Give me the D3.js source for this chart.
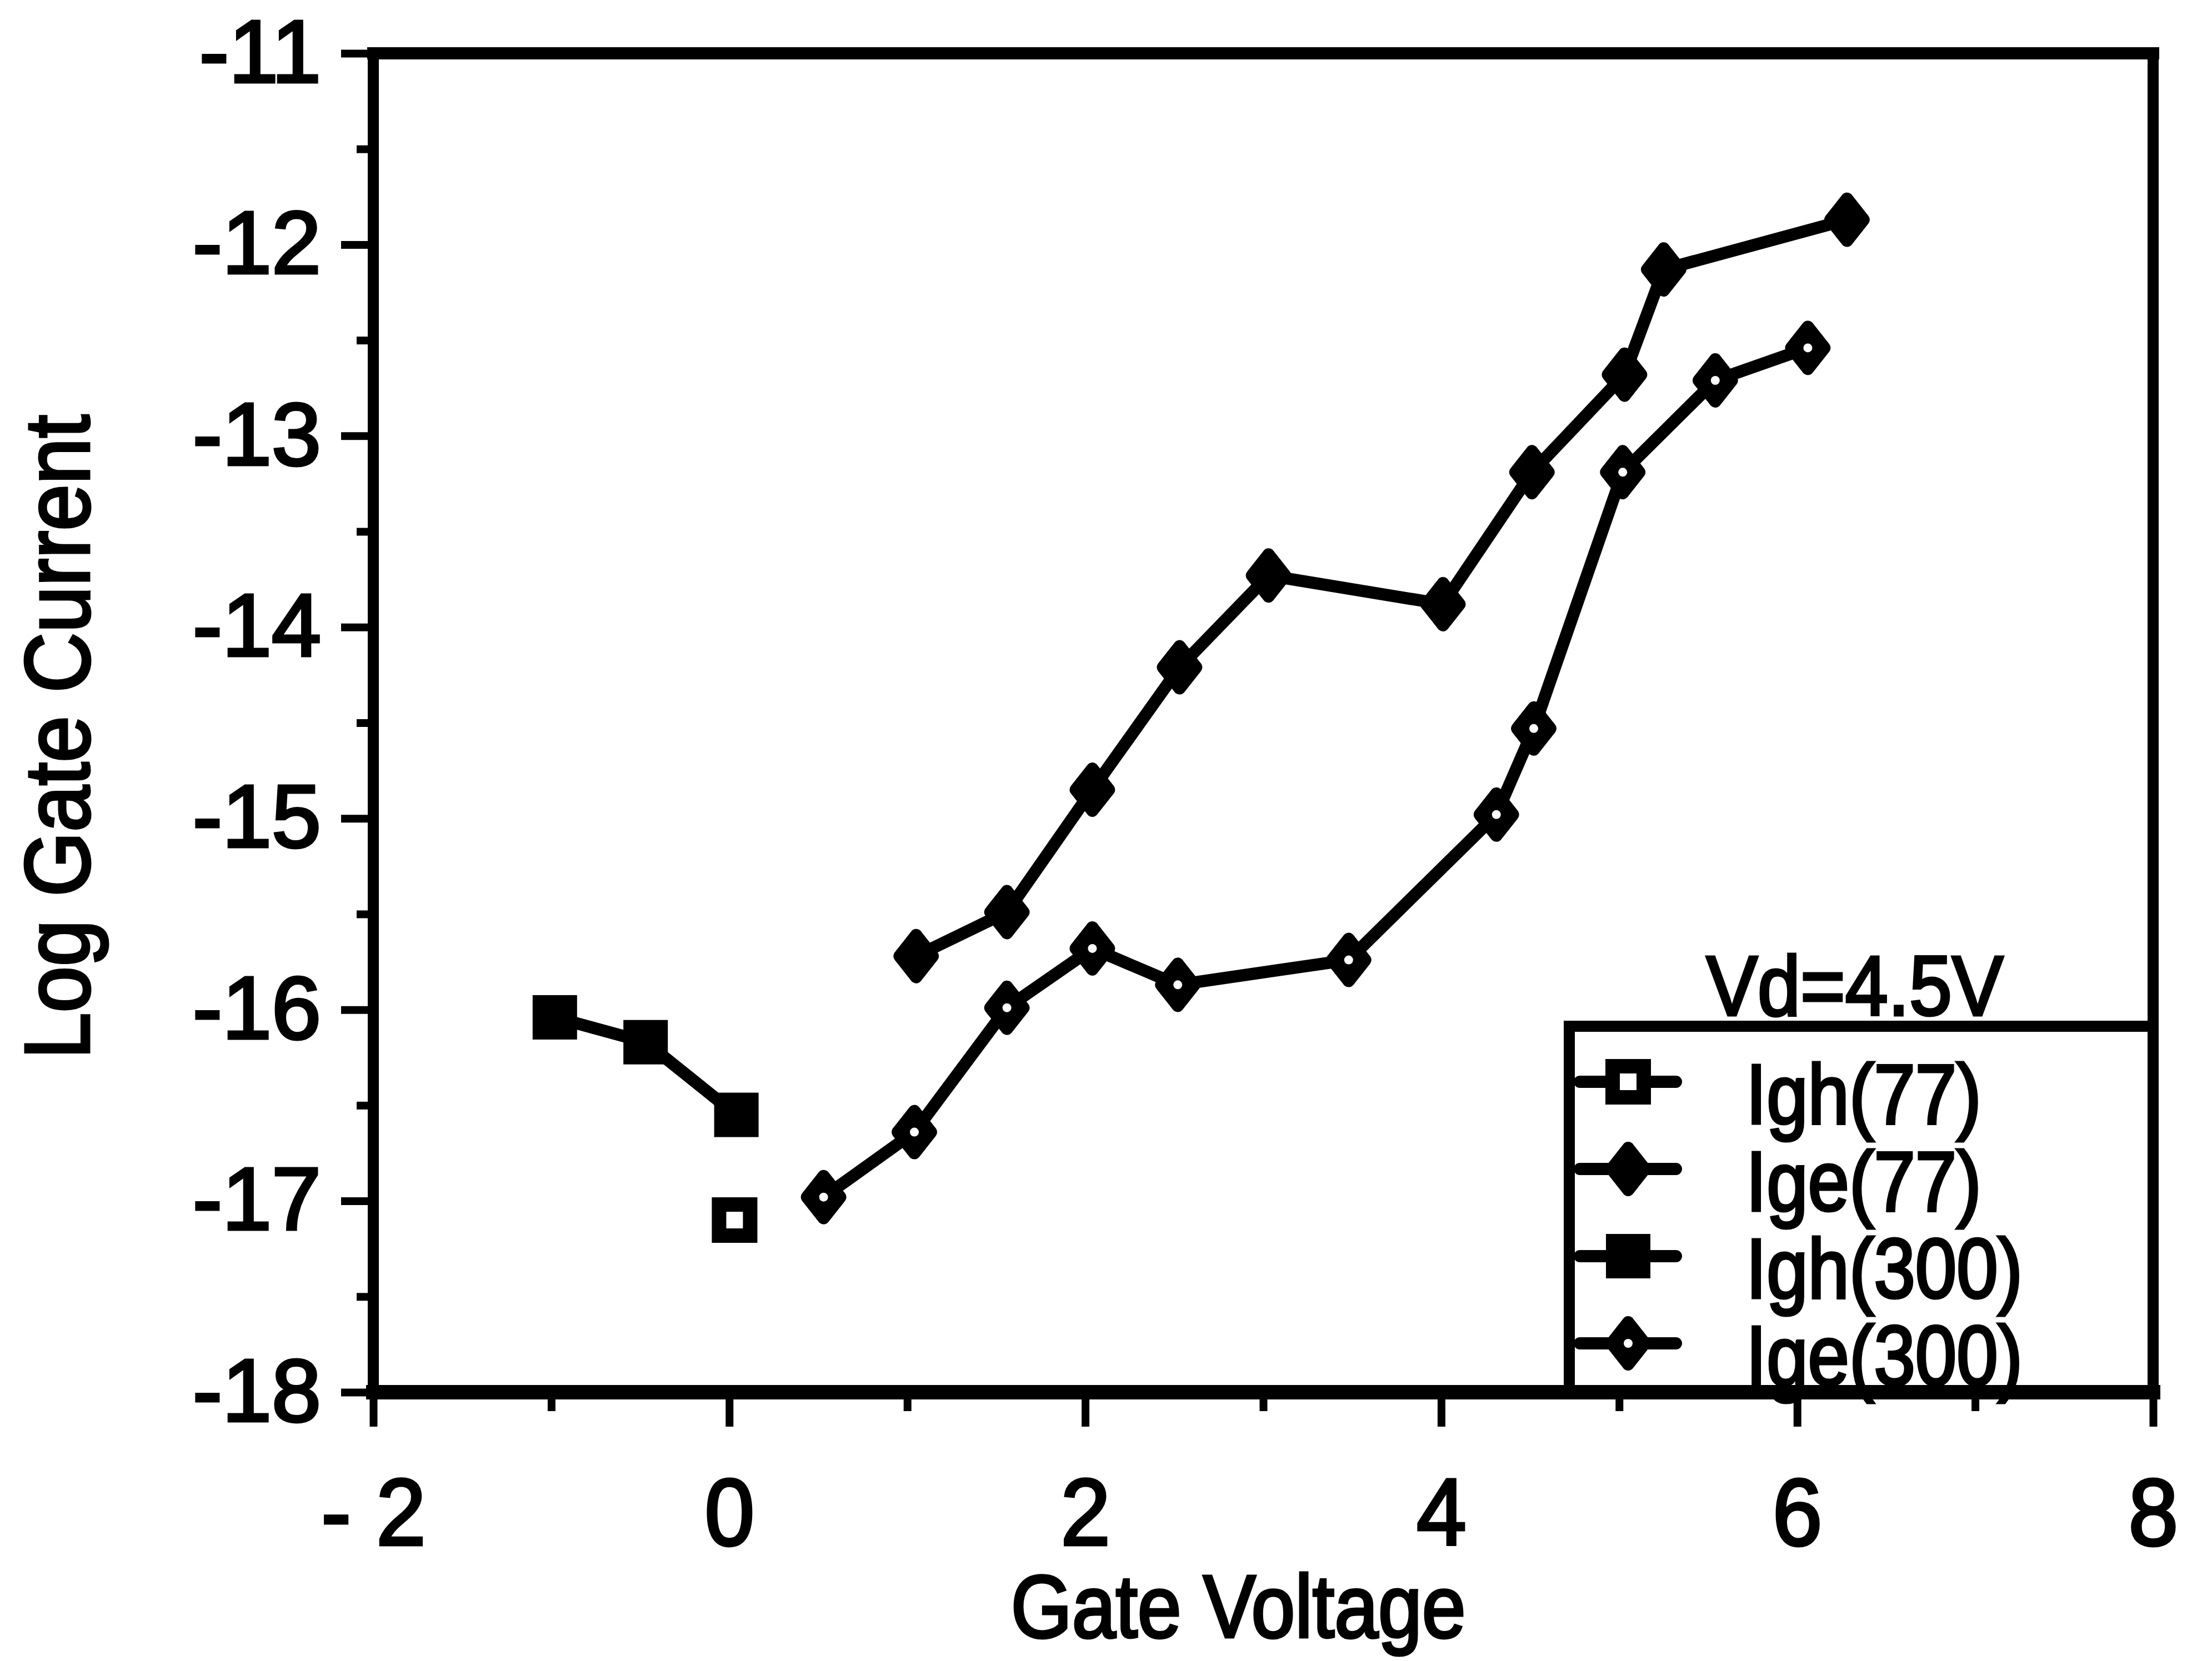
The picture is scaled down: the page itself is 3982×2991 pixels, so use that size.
<!DOCTYPE html>
<html><head><meta charset="utf-8">
<script src="https://cdn.jsdelivr.net/npm/d3@7"></script>
<style>
body{margin:0;background:#fff}
svg{display:block;background:#fff}
text{font-family:"Liberation Sans",Arial,Helvetica,sans-serif;fill:#000;stroke:#000;stroke-width:5px}
</style>
</head><body>
<svg id="c" width="3982" height="2991"></svg>
<script>
// ---- data ----
const ighX77 = [0.03];
const ighY77 = [-17.10];
const igeX77 = [1.05, 1.56, 2.04, 2.53, 3.03, 4.01, 4.51, 5.03, 5.25, 6.28];
const igeY77 = [-15.72, -15.49, -14.85, -14.21, -13.73, -13.88, -13.19, -12.68, -12.13, -11.87];
const ighX300 = [-0.98, -0.47, 0.04];
const ighY300 = [-16.04, -16.17, -16.55];
const igeX300 = [0.53, 1.04, 1.56, 2.04, 2.52, 3.48, 4.31, 4.52, 5.02, 5.54, 6.06];
const igeY300 = [-16.98, -16.64, -15.99, -15.68, -15.87, -15.74, -14.98, -14.53, -13.19, -12.71, -12.54];

const xTicks = [-2, 0, 2, 4, 6, 8];
const xTickLabels = ["- 2", "0", "2", "4", "6", "8"];
const xMinorTicks = [-1, 1, 3, 5, 7];
const yTicks = [-18, -17, -16, -15, -14, -13, -12, -11];
const yTickLabels = ["-18", "-17", "-16", "-15", "-14", "-13", "-12", "-11"];
const yMinorTicks = [-17.5, -16.5, -15.5, -14.5, -13.5, -12.5, -11.5];

const xTitle = "Gate Voltage";
const yTitle = "Log Gate Current";
const legendTitle = "Vd=4.5V";
const legendLabels = ["Igh(77)", "Ige(77)", "Igh(300)", "Ige(300)"];
const legendMarkers = ["openSquare", "filledDiamond", "filledSquare", "openDiamond"];

// ---- layout ----
const svg = d3.select("#c");
const L = 672, R = 3876, T = 96, B = 2507;
const x = d3.scaleLinear().domain([-2, 8]).range([L, R]);
const y = d3.scaleLinear().domain([-18, -11]).range([B, T]);

const zip = (xs, ys) => xs.map((v, i) => [v, ys[i]]);
const series = [
  {pts: zip(ighX77, ighY77), marker: "openSquare"},
  {pts: zip(igeX77, igeY77), marker: "filledDiamond"},
  {pts: zip(ighX300, ighY300), marker: "filledSquare"},
  {pts: zip(igeX300, igeY300), marker: "openDiamond"}
];

function drawMarker(g, type, cx, cy) {
  if (type === "filledSquare") {
    g.append("rect").attr("x", cx - 40).attr("y", cy - 40).attr("width", 80).attr("height", 80).attr("fill", "#000");
  } else if (type === "openSquare") {
    g.append("rect").attr("x", cx - 28).attr("y", cy - 28).attr("width", 56).attr("height", 56)
      .attr("fill", "#fff").attr("stroke", "#000").attr("stroke-width", 26);
  } else {
    const w = 30, h = 38;
    g.append("path").attr("d", `M${cx},${cy - h}L${cx + w},${cy}L${cx},${cy + h}L${cx - w},${cy}Z`)
      .attr("fill", "#000").attr("stroke", "#000").attr("stroke-width", 22).attr("stroke-linejoin", "round");
    if (type === "openDiamond") {
      g.append("circle").attr("cx", cx).attr("cy", cy).attr("r", 8).attr("fill", "#fff");
    }
  }
}

// ---- series ----
const line = d3.line().x(d => x(d[0])).y(d => y(d[1]));
const gData = svg.append("g");
series.forEach(s => {
  if (s.pts.length > 1) {
    gData.append("path").datum(s.pts).attr("d", line).attr("fill", "none")
      .attr("stroke", "#000").attr("stroke-width", 22).attr("stroke-linejoin", "round");
  }
});
series.forEach(s => s.pts.forEach(p => drawMarker(gData, s.marker, x(p[0]), y(p[1]))));

// ---- legend ----
const lg = svg.append("g");
const legL = 2825, legT = 1848;
lg.append("rect").attr("x", legL).attr("y", legT).attr("width", R - legL).attr("height", B - legT)
  .attr("fill", "#fff").attr("stroke", "#000").attr("stroke-width", 20);
lg.append("text").attr("transform", `translate(3339,1828) scale(0.91,1)`)
  .attr("text-anchor", "middle").attr("font-size", 152).text(legendTitle);
legendLabels.forEach((lab, i) => {
  const base = 2023 + i * 157;
  const cy = base - 75;
  lg.append("line").attr("x1", 2844).attr("x2", 3017).attr("y1", cy).attr("y2", cy)
    .attr("stroke", "#000").attr("stroke-width", 22).attr("stroke-linecap", "round");
  drawMarker(lg, legendMarkers[i], 2931, cy);
  lg.append("text").attr("transform", `translate(3143,${base}) scale(0.88,1)`)
    .attr("font-size", 152).text(lab);
});

// ---- axes ----
const fmtX = d => xTickLabels[xTicks.indexOf(d)];
const fmtY = d => yTickLabels[yTicks.indexOf(d)];

const gx = svg.append("g").attr("transform", `translate(0,${B})`)
  .call(d3.axisBottom(x).tickValues(xTicks).tickSize(62).tickPadding(92).tickFormat(fmtX));
const gxm = svg.append("g").attr("transform", `translate(0,${B})`)
  .call(d3.axisBottom(x).tickValues(xMinorTicks).tickSize(34).tickFormat(""));
const gy = svg.append("g").attr("transform", `translate(${L},0)`)
  .call(d3.axisLeft(y).tickValues(yTicks).tickSize(58).tickPadding(36).tickFormat(fmtY));
const gym = svg.append("g").attr("transform", `translate(${L},0)`)
  .call(d3.axisLeft(y).tickValues(yMinorTicks).tickSize(30).tickFormat(""));

[gx, gxm, gy, gym].forEach(g => {
  g.select(".domain").remove();
  g.selectAll(".tick line").attr("stroke", "#000").attr("stroke-width", 14);
  g.selectAll(".tick text").attr("font-family", null).attr("fill", "#000");
});
gx.selectAll(".tick text").attr("font-size", 170).attr("transform", "scale(0.95,1)");
gy.selectAll(".tick text").attr("font-size", 160);

// frame
const frame = svg.append("g").attr("stroke", "#000").attr("stroke-linecap", "square");
frame.append("line").attr("x1", L).attr("x2", R).attr("y1", T).attr("y2", T).attr("stroke-width", 22);
frame.append("line").attr("x1", L).attr("x2", R).attr("y1", B).attr("y2", B).attr("stroke-width", 26);
frame.append("line").attr("x1", L).attr("x2", L).attr("y1", T).attr("y2", B).attr("stroke-width", 20);
frame.append("line").attr("x1", R).attr("x2", R).attr("y1", T).attr("y2", B).attr("stroke-width", 20);

// titles
svg.append("text").attr("transform", `translate(2229,2948) scale(0.885,1)`)
  .attr("text-anchor", "middle").attr("font-size", 160).text(xTitle);
svg.append("text").attr("transform", `translate(160,1327) rotate(-90) scale(0.91,1)`)
  .attr("text-anchor", "middle").attr("font-size", 165).text(yTitle);
</script>
</body></html>
